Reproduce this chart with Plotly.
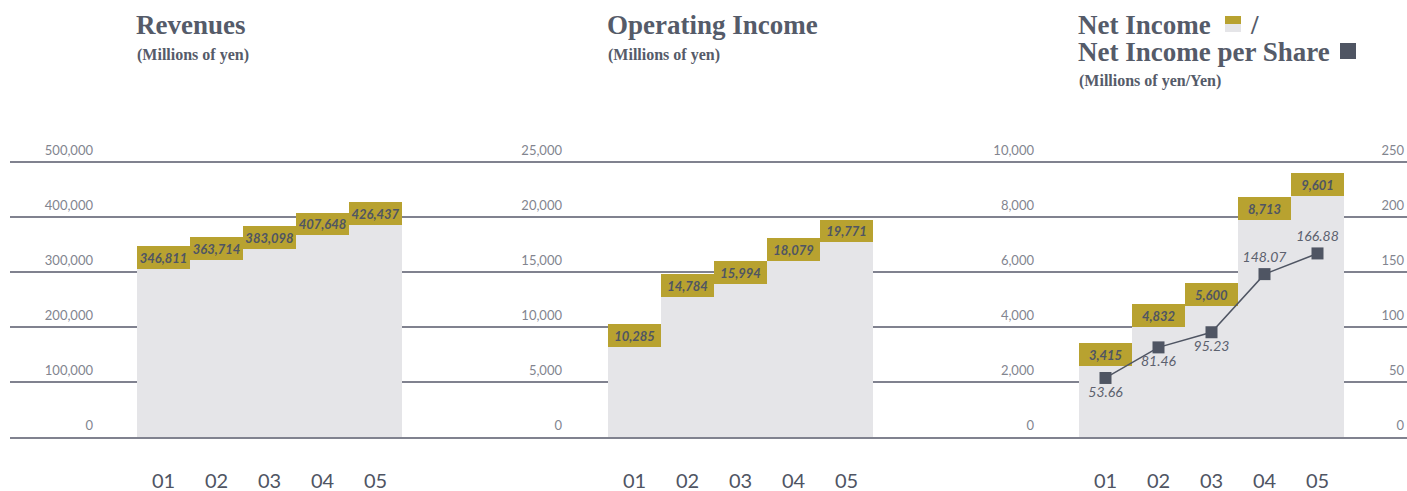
import plotly.graph_objects as go

# ---------------- data ----------------
years = ["01", "02", "03", "04", "05"]
revenues = [346811, 363714, 383098, 407648, 426437]
operating_income = [10285, 14784, 15994, 18079, 19771]
net_income = [3415, 4832, 5600, 8713, 9601]
eps = [53.66, 81.46, 95.23, 148.07, 166.88]

rev_ticks = [0, 100000, 200000, 300000, 400000, 500000]
op_ticks = [0, 5000, 10000, 15000, 20000, 25000]
ni_ticks = [0, 2000, 4000, 6000, 8000, 10000]
eps_ticks = [0, 50, 100, 150, 200, 250]

# ---------------- style ----------------
W, H = 1407, 491
GOLD = "#b8a230"
LIGHT = "#e5e5e8"
DARK = "#4f5563"
GRID = "#80828f"
TICK = "#82858f"
TITLE = "#555b69"
SERIF = "Liberation Serif"
SANS = "Lato"
BOX_PX = 22.7          # height of the gold label box in pixels
AX_TOP, AX_BOT = 162, 437
DOM_TOP = 136          # domain top above the top gridline (room for its label)


def fx(px):
    return px / W


def fy(py):
    return 1 - py / H


fig = go.Figure()


def add_panel(vals, ymax, xa, ya, name):
    unit = BOX_PX * ymax / (AX_BOT - AX_TOP)
    bases = [v - unit for v in vals]
    fig.add_trace(go.Bar(x=list(range(len(years))), y=bases, base=0,
                         marker=dict(color=LIGHT, line=dict(width=0)),
                         width=1.0, xaxis=xa, yaxis=ya, showlegend=False,
                         hoverinfo="skip"))
    fig.add_trace(go.Bar(x=list(range(len(years))), y=[unit] * len(vals), base=bases,
                         marker=dict(color=GOLD, line=dict(width=0)),
                         width=1.0, xaxis=xa, yaxis=ya, showlegend=False,
                         text=[f"{v:,}" for v in vals], textposition="inside",
                         insidetextanchor="middle", textangle=0, constraintext="none",
                         textfont=dict(family=SANS, size=13, color=DARK,
                                       weight="bold", style="italic"),
                         name=name))


add_panel(revenues, 500000, "x", "y", "Revenues")
add_panel(operating_income, 25000, "x2", "y2", "Operating Income")
add_panel(net_income, 10000, "x3", "y3", "Net Income")

eps_pos = ["bottom center", "bottom center", "bottom center", "top center", "top center"]
fig.add_trace(go.Scatter(x=list(range(len(years))), y=eps, xaxis="x3", yaxis="y4",
                         mode="lines+markers+text",
                         line=dict(color=DARK, width=1.5),
                         marker=dict(symbol="square", size=12, color=DARK),
                         text=[f"{v:.2f}" for v in eps], textposition=eps_pos,
                         textfont=dict(family=SANS, size=14, color="#5c616e", style="italic"),
                         showlegend=False, hoverinfo="skip"))

ydom = [fy(AX_BOT), fy(DOM_TOP)]
ext = (AX_BOT - DOM_TOP) / (AX_BOT - AX_TOP)
panels = [(10, 481, 137), (481, 952, 608), (952, 1407, 1079)]


def xrange_for(left, right, bar_left):
    bw = 53.0
    c0 = bar_left + bw / 2
    return [(left - c0) / bw, (right - c0) / bw]


xaxis_common = dict(tickmode="array", tickvals=list(range(len(years))), ticktext=years,
                    showgrid=False, zeroline=False, showline=True, linecolor=GRID,
                    linewidth=1.5, ticks="outside", ticklen=0, ticklabelstandoff=25,
                    tickfont=dict(family=SANS, size=20, color=DARK), fixedrange=True,
                    automargin=False)

yaxis_common = dict(showgrid=True, gridcolor=GRID, gridwidth=1.5, zeroline=False,
                    showline=False, ticks="", tickfont=dict(family=SANS, size=13, color=TICK),
                    tickformat=",", ticklabelshift=-12, domain=ydom, automargin=False,
                    fixedrange=True)

layout = dict(width=W, height=H, margin=dict(l=0, r=0, t=0, b=0, autoexpand=False),
              plot_bgcolor="white", paper_bgcolor="white", barmode="overlay", bargap=0)

label_ends = [93, 562, 1034]
tickss = [rev_ticks, op_ticks, ni_ticks]
maxes = [500000, 25000, 10000]
for i, (left, right, bl) in enumerate(panels):
    sfx = "" if i == 0 else str(i + 1)
    layout["xaxis" + sfx] = dict(xaxis_common, domain=[fx(left), fx(right)],
                                 range=xrange_for(left, right, bl),
                                 anchor="y" + sfx)
    layout["yaxis" + sfx] = dict(yaxis_common, range=[0, maxes[i] * ext], tickvals=tickss[i],
                                 anchor="free", position=fx(label_ends[i]), side="left")

layout["yaxis4"] = dict(yaxis_common, range=[0, 250 * ext], tickvals=eps_ticks, showgrid=False,
                        overlaying="y3", side="right", anchor="x3",
                        ticklabelposition="inside")

fig.update_layout(**layout)

# ---------------- titles ----------------
def ann(text, x, y, size):
    fig.add_annotation(text=text, x=fx(x), y=fy(y), xref="paper", yref="paper",
                       xanchor="left", yanchor="middle", showarrow=False,
                       font=dict(family=SERIF, size=size, color=TITLE, weight="bold"))


ann("Revenues", 134, 25, 27)
ann("(Millions of yen)", 135, 55, 16)
ann("Operating Income", 605, 25, 27)
ann("(Millions of yen)", 606, 55, 16)
ann("Net Income", 1076, 25, 27)
ann("/", 1248, 25, 27)
ann("Net Income per Share", 1076, 52, 27)
ann("(Millions of yen/Yen)", 1077, 81, 16)

for (x0, y0, x1, y1, col) in [(1225, 16, 1241, 24, GOLD), (1225, 24, 1241, 32, LIGHT),
                              (1340, 43, 1356, 59, DARK)]:
    fig.add_shape(type="rect", xref="paper", yref="paper", x0=fx(x0), x1=fx(x1),
                  y0=fy(y0), y1=fy(y1), fillcolor=col, line=dict(width=0))

fig.write_html("out.html", config={"displayModeBar": False},
               post_script="document.body.style.margin='0';"
                           "document.body.style.overflow='hidden';")
